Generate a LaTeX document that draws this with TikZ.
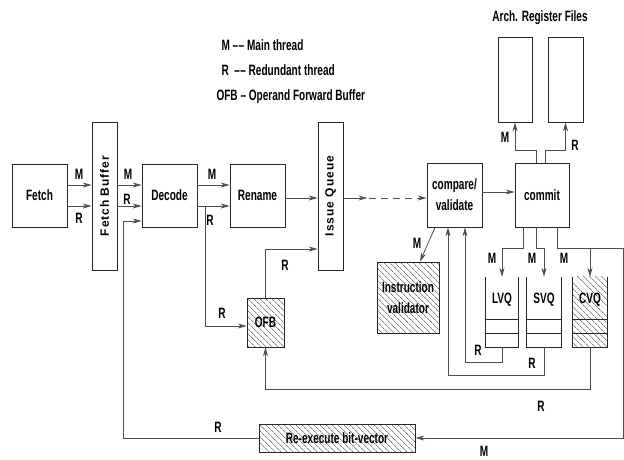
\documentclass[tikz,border=0pt]{standalone}
\usepackage{fontspec}
\setmainfont{Liberation Sans}[FakeStretch=0.67]
\newfontfamily\spacedfont{Liberation Sans}[LetterSpace=8]
\usetikzlibrary{calc, patterns.meta, arrows.meta}

\begin{document}
\begin{tikzpicture}[x=1pt,y=-1pt,
  every node/.style={font=\fontsize{15}{21}\selectfont\bfseries},
  unit/.style={draw=black!85,line width=0.8pt,inner sep=0pt,align=center},
  tall/.style={unit,minimum width=25pt,minimum height=148pt},
  vtext/.style={rotate=90,font=\spacedfont\fontsize{12}{14}\selectfont\bfseries},
  hatch/.style={pattern={Lines[angle=-45,distance=4pt,line width=0.5pt]},pattern color=black!75},
  wire/.style={draw=black!70,line width=0.8pt},
  arr/.style={wire,-{Stealth[length=9pt,width=5pt]}},
  lbl/.style={inner sep=0pt}]
  \useasboundingbox (0,0) rectangle (624,460);

  \def\yM{185}
  \def\yR{206}

  % legenda
  \node[anchor=west] (leg1) at (218,45) {M --\kern0.4pt-- Main thread};
  \node[anchor=west] (leg2) at (218,70) {R\ \ --\kern0.4pt-- Redundant thread};
  \node[anchor=west] (leg3) at (213,97) {OFB -- Operand Forward Buffer};
  \node (archtitle) at (540,18) {Arch. Register Files};

  % pipeline
  \node[unit,minimum width=55pt,minimum height=63pt] (fetch) at (39.5,195.5) {Fetch};
  \node[tall] (fbuf) at (104.5,196) {};
  \node[vtext] (fbuftxt) at (fbuf) {Fetch Buffer};
  \node[unit,minimum width=55pt,minimum height=63pt] (decode) at (169.5,195.5) {Decode};
  \node[unit,minimum width=55pt,minimum height=63pt] (rename) at (257.5,195.5) {Rename};
  \node[tall] (iq) at (330.5,196) {};
  \node[vtext] (iqtxt) at (iq) {Issue Queue};
  \node[unit,minimum width=55pt,minimum height=64pt] (cmp) at (454.5,195) {compare/\\validate};
  \node[unit,minimum width=54pt,minimum height=64pt] (commit) at (542,195) {commit};

  % register files
  \node[unit,minimum width=34pt,minimum height=85pt] (regM) at (515,79.5) {};
  \node[unit,minimum width=35pt,minimum height=85pt] (regR) at (565.5,79.5) {};

  % buffer tratteggiati
  \node[unit,hatch,minimum width=37pt,minimum height=49pt] (ofb) at (265.5,322.5) {OFB};
  \node[unit,hatch,minimum width=62pt,minimum height=71pt] (ival) at (408,297.5) {Instruction\\validator};
  \node[unit,hatch,minimum width=156pt,minimum height=28pt] (rebv) at (337,438) {Re-execute bit-vector};

  % code LVQ, SVQ, CVQ
  \node[inner sep=0pt,minimum width=32pt,minimum height=70pt] (lvq) at (502,312) {};
  \node[inner sep=0pt,minimum width=34pt,minimum height=70pt] (svq) at (544,312) {};
  \node[inner sep=0pt,minimum width=34pt,minimum height=70pt] (cvq) at (590,312) {};
  \fill[hatch] (cvq.north west) rectangle (cvq.south east);
  \foreach \q in {lvq,svq,cvq} {
    \draw[draw=black!85,line width=0.8pt] (\q.north west) |- (\q.south east) -- (\q.north east);
    \draw[draw=black!85,line width=0.8pt] (\q.west |- 0,319) -- (\q.east |- 0,319);
    \draw[draw=black!85,line width=0.8pt] (\q.west |- 0,333) -- (\q.east |- 0,333);
  }
  \node (lvqtxt) at (502,300) {LVQ};
  \node (svqtxt) at (544,300) {SVQ};
  \node (cvqtxt) at (590,300) {CVQ};

  % frecce in avanti
  \draw[arr] (fetch.east |- 0,\yM) -- (fbuf.west |- 0,\yM);
  \draw[arr] (fetch.east |- 0,\yR) -- (fbuf.west |- 0,\yR);
  \draw[arr] (fbuf.east |- 0,\yM) -- (decode.west |- 0,\yM);
  \draw[arr] (fbuf.east |- 0,\yR) -- (decode.west |- 0,\yR);
  \draw[arr] (decode.east |- 0,\yM) -- (rename.west |- 0,\yM);
  \draw[arr] (decode.east |- 0,\yR) -- (rename.west |- 0,\yR);
  \draw[arr] (rename.east |- 0,198) -- (iq.west |- 0,198);
  \coordinate (dash) at (369,198);
  \draw[arr] (iq.east |- 0,198) -- ++(24,0);
  \draw[arr,dashed,dash pattern=on 7pt off 5pt] (dash) -- (cmp.west |- 0,198);
  \draw[arr] (cmp.east |- 0,192) -- (commit.west |- 0,192);

  \node[lbl] (m1) at (79,174) {M};
  \node[lbl] (r1) at (79,218) {R};
  \node[lbl] (m2) at (128,174) {M};
  \node[lbl] (r2) at (127,199) {R};
  \node[lbl] (m3) at (212,174) {M};
  \node[lbl] (r3) at (210,220) {R};

  % OFB
  \coordinate (br) at (205,\yR);
  \draw[arr] (br) |- (ofb.west |- 0,326);
  \draw[arr] (ofb.north) |- (iq.west |- 0,249);
  \node[lbl] (r4) at (222,313) {R};
  \node[lbl] (r5) at (285,265) {R};

  % commit -> register files
  \draw[arr] (commit.north -| 536,0) |- (regM.south |- 0,150) -- (regM.south);
  \draw[arr] (commit.north -| 545,0) |- (regR.south |- 0,150) -- (regR.south);
  \node[lbl] (m4) at (505,137) {M};
  \node[lbl] (r6) at (575,145) {R};

  % commit -> code
  \draw[arr] (commit.south -| 523,0) |- (lvq.north |- 0,248) -- (lvq.north);
  \draw[arr] (commit.south -| 536,0) |- (svq.north |- 0,248) -- (svq.north);
  \draw[arr] (commit.south -| 557,0) |- (623,248) |- (rebv.east);
  \draw[arr] (cvq.north |- 0,248) -- (cvq.north);
  \node[lbl] (m5) at (492,258) {M};
  \node[lbl] (m6) at (532,258) {M};
  \node[lbl] (m7) at (564,258) {M};
  \node[lbl] (m8) at (484,451) {M};

  % ritorni
  \draw[arr] (lvq.south) |- (465,362) -- (cmp.south -| 465,0);
  \draw[arr] (svq.south) |- (448,375) -- (cmp.south -| 448,0);
  \draw[arr] (cvq.south) |- (ofb.south |- 0,389) -- (ofb.south);
  \draw[arr] (rebv.west) -| (123,221) -- (decode.west |- 0,221);
  \node[lbl] (r7) at (478,350) {R};
  \node[lbl] (r8) at (532,363) {R};
  \node[lbl] (r9) at (541,406) {R};
  \node[lbl] (r10) at (218,427) {R};

  % validator
  \draw[arr] (cmp.south -| 435,0) -- (ival.north -| 420,0);
  \node[lbl] (m9) at (417,243) {M};
\end{tikzpicture}
\end{document}
